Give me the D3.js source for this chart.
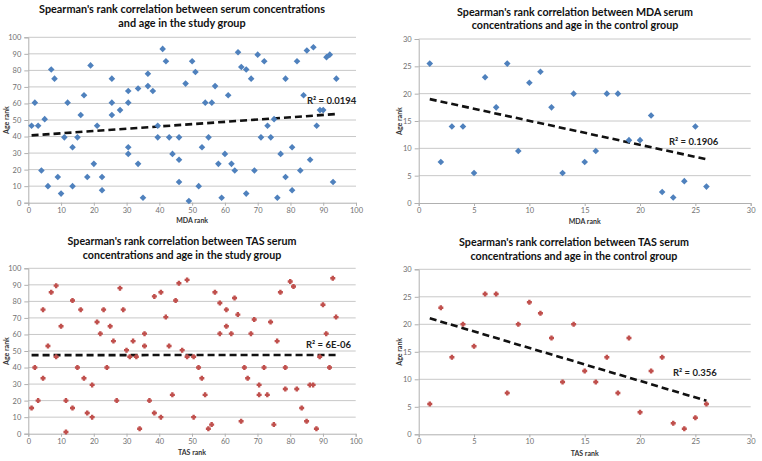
<!DOCTYPE html>
<html>
<head>
<meta charset="utf-8">
<script src="https://cdn.jsdelivr.net/npm/d3@7"></script>
<style>
  html, body { margin: 0; padding: 0; background: #fff; }
  svg { display: block; }
</style>
</head>
<body>
<svg id="chart" width="762" height="461"></svg>
<script>
// ---------- DATA ----------
// MDA rank vs age rank, study group
const mdaStudyX = [1,2,3,4,5,6,7,8,9,10,11,12,13.5,13.5,15,16,17,18,19,20,21,22.5,22.5,25.5,25.5,25.5,28,30.5,30.5,30.5,30.5,33.5,33.5,35,36.5,36.5,38,39.5,39.5,41,42,43,44,46,46,46,48,49,50,51,52,53,54,55,56,57,58,59,60,61,62,63,64,65,66.5,66.5,68,69,70,71,72,73,74,75,76,77,78.5,78.5,80.5,80.5,82,83,84,85,86,87,88,89,90,91,92,93,94];
const mdaStudyY = [46.5,60.5,46.5,19.5,50.5,10,80.5,75,15.5,5.5,39.5,60.5,33.5,10,39.5,53,65,15.5,83,23.5,46.5,15.5,7.5,75,60.5,53,56,67.5,60.5,33.5,29.5,69,23.5,3,78,70.5,67.5,46.5,39.5,93,85.5,39.5,29.5,39.5,26,12.5,72,1,85.5,79,10,33.5,60.5,39.5,60.5,70.5,23.5,3,29.5,65,23.5,19.5,91,82,80.5,5.5,75,19.5,89.5,39.5,85.5,46.5,39.5,50.5,3,29.5,75,15.5,33.5,7.5,85.5,19.5,65,92,26,94,46.5,56,56,88,89.5,12.5,75];
const mdaStudyTrend = [[1, 40.7], [94, 53.6]];
const mdaStudyR2 = "R\u00B2 = 0.0194";

// MDA rank vs age rank, control group
const mdaControlX = [1,2,3,4,5,6,7,8,9,10,11,12,13,14,15,16,17,18,19,20,21,22,23,24,25,26];
const mdaControlY = [25.5,7.5,14,14,5.5,23,17.5,25.5,9.5,22,24,17.5,5.5,20,7.5,9.5,20,20,11.5,11.5,16,2,1,4,14,3];
const mdaControlTrend = [[1, 19.0], [26, 8.0]];
const mdaControlR2 = "R\u00B2 = 0.1906";

// TAS rank vs age rank, study group
const tasStudyX = [1,2,3,4.5,4.5,6,7,8.5,8.5,10,11.5,11.5,13.5,13.5,15,16,17,18,19.5,19.5,21,22,23,24,25,26,27,28,29,30,31,32,33,34,35.5,35.5,37,38.5,38.5,40.5,40.5,42,43,44,45,46,47,48.5,48.5,50.5,50.5,52,53,54,55,56,57,58.5,58.5,60.5,60.5,62,63,64,65,66,67,68,69,70.5,70.5,72,73,74,75,76,77,78.5,78.5,80,81,82,83.5,85,86,87,88,89,90,91,92,93,94];
const tasStudyY = [15.5,40,20,75,33.5,53,85.5,89.5,46.5,65,20,1,80.5,15.5,40,75,33.5,12.5,29.5,10,67.5,60.5,75,40,65,56,20,88,75,50.5,46.5,56,46.5,3,60.5,53,20,83,12.5,85.5,10,70.5,53,23.5,80.5,91,50.5,93,46.5,46.5,10,40,33.5,23.5,3,5.5,85.5,79,60.5,75,65,60.5,82,72,7.5,40,33.5,60.5,69,29.5,23.5,40,23.5,67.5,5.5,56,85.5,40,27,92,89,27,15.5,7.5,29.5,29.5,3,46.5,78,60.5,40,94,70.5];
const tasStudyTrend = [[1, 47.5], [94, 47.6]];
const tasStudyR2 = "R\u00B2 = 6E-06";

// TAS rank vs age rank, control group
const tasControlX = [1,2,3,4,5,6,7,8,9,10,11,12,13,14,15,16,17,18,19,20,21,22,23,24,25,26];
const tasControlY = [5.5,23,14,20,16,25.5,25.5,7.5,20,24,22,17.5,9.5,20,11.5,9.5,14,7.5,17.5,4,11.5,14,2,1,3,5.5];
const tasControlTrend = [[1, 21.1], [26, 6.1]];
const tasControlR2 = "R\u00B2 = 0.356";

const studyTicks = [0,10,20,30,40,50,60,70,80,90,100];
const controlTicks = [0,5,10,15,20,25,30];

const titles = [
  ["Spearman's rank correlation between serum concentrations", "and age in the study group"],
  ["Spearman's rank correlation between MDA serum", "concentrations and age in the control group"],
  ["Spearman's rank correlation between TAS serum", "concentrations and age in the study group"],
  ["Spearman's rank correlation between TAS serum", "concentrations and age in the control group"]
];
const xLabels = ["MDA rank", "MDA rank", "TAS rank", "TAS rank"];
const yLabel = "Age rank";

// ---------- LAYOUT ----------
const BLUE = "#4F81BD", RED = "#C0504D";
const panels = [
  { xs: mdaStudyX, ys: mdaStudyY, trend: mdaStudyTrend, r2: mdaStudyR2, ticks: studyTicks,
    l: 28.3, r: 356, t: 37.3, b: 202.7, color: BLUE, shape: "diamond",
    title: titles[0], tcx: 182, tby: [12.5, 27], tw: 286,
    xl: xLabels[0], xly: 223, ylx: 9, r2x: 307, r2y: 104 },
  { xs: mdaControlX, ys: mdaControlY, trend: mdaControlTrend, r2: mdaControlR2, ticks: controlTicks,
    l: 418.7, r: 750.7, t: 39, b: 203, color: BLUE, shape: "diamond",
    title: titles[1], tcx: 575, tby: [16, 28.5], tw: 236,
    xl: xLabels[1], xly: 223.5, ylx: 402, r2x: 669, r2y: 145 },
  { xs: tasStudyX, ys: tasStudyY, trend: tasStudyTrend, r2: tasStudyR2, ticks: studyTicks,
    l: 28.3, r: 355.7, t: 268.3, b: 433.7, color: RED, shape: "square",
    title: titles[2], tcx: 182, tby: [245, 258.5], tw: 229,
    xl: xLabels[2], xly: 455, ylx: 9, r2x: 306, r2y: 347.5 },
  { xs: tasControlX, ys: tasControlY, trend: tasControlTrend, r2: tasControlR2, ticks: controlTicks,
    l: 418.7, r: 750.7, t: 269.3, b: 434.3, color: RED, shape: "square",
    title: titles[3], tcx: 574, tby: [246, 259.5], tw: 230,
    xl: xLabels[3], xly: 455.5, ylx: 402, r2x: 673, r2y: 375.5 }
];

const svg = d3.select("#chart");
const FONT = "Lato, 'Open Sans', sans-serif";

panels.forEach(p => {
  const max = p.ticks[p.ticks.length - 1];
  const x = d3.scaleLinear().domain([0, max]).range([p.l, p.r]);
  const y = d3.scaleLinear().domain([0, max]).range([p.b, p.t]);
  const g = svg.append("g");

  // gridlines
  g.append("g").selectAll("line").data(p.ticks.filter(d => d > 0)).join("line")
    .attr("x1", p.l).attr("x2", p.r)
    .attr("y1", d => y(d)).attr("y2", d => y(d))
    .attr("stroke", "#c8c8c8").attr("stroke-width", 1);

  // y axis
  const ya = g.append("g").attr("transform", `translate(${p.l},0)`)
    .call(d3.axisLeft(y).tickValues(p.ticks).tickSize(4).tickPadding(3));
  // x axis
  const xa = g.append("g").attr("transform", `translate(0,${p.b})`)
    .call(d3.axisBottom(x).tickValues(p.ticks).tickSize(3).tickPadding(1.5));
  [ya, xa].forEach(a => {
    a.select(".domain").attr("stroke", "#b0b0b0");
    a.selectAll(".tick line").attr("stroke", "#b0b0b0");
    a.selectAll("text").attr("fill", "#707070").style("font-family", FONT).style("font-size", "7.5px");
  });

  // trendline
  g.append("path").datum(p.trend)
    .attr("d", d3.line().x(d => x(d[0])).y(d => y(d[1])))
    .attr("fill", "none").attr("stroke", "#111").attr("stroke-width", 2.6)
    .attr("stroke-dasharray", "7,4");

  // points
  const pts = p.xs.map((v, i) => [v, p.ys[i]]);
  if (p.shape === "diamond") {
    g.append("g").selectAll("path").data(pts).join("path")
      .attr("transform", d => `translate(${x(d[0])},${y(d[1])})`)
      .attr("d", "M0,-3.3L3.3,0L0,3.3L-3.3,0Z")
      .attr("fill", p.color);
  } else {
    g.append("g").selectAll("path").data(pts).join("path")
      .attr("transform", d => `translate(${x(d[0])},${y(d[1])})`)
      .attr("d", "M-1.2,-2.5H1.2V-1.2H2.5V1.2H1.2V2.5H-1.2V1.2H-2.5V-1.2H-1.2Z")
      .attr("fill", p.color);
  }

  // R² label
  g.append("text").attr("x", p.r2x).attr("y", p.r2y)
    .text(p.r2).attr("fill", "#222")
    .style("font-family", FONT).style("font-weight", "bold").style("font-size", "9.5px");

  // title
  const tt = g.selectAll("text.title").data(p.title).join("text").attr("class", "title")
    .attr("x", p.tcx).attr("y", (d, i) => p.tby[i])
    .attr("text-anchor", "middle").attr("fill", "#111")
    .style("font-family", FONT).style("font-weight", "bold").style("font-size", "12px")
    .text(d => d);
  const w0 = tt.nodes()[0].getComputedTextLength();
  tt.style("font-size", (12 * p.tw / w0).toFixed(2) + "px");

  // axis labels
  g.append("text").attr("x", (p.l + p.r) / 2).attr("y", p.xly)
    .attr("text-anchor", "middle").attr("fill", "#333")
    .style("font-family", FONT).style("font-size", "7px").style("font-weight", "bold")
    .text(p.xl);
  g.append("text")
    .attr("transform", `translate(${p.ylx},${(p.t + p.b) / 2}) rotate(-90)`)
    .attr("text-anchor", "middle").attr("fill", "#333")
    .style("font-family", FONT).style("font-size", "7px").style("font-weight", "bold")
    .text(yLabel);
});
</script>
</body>
</html>
